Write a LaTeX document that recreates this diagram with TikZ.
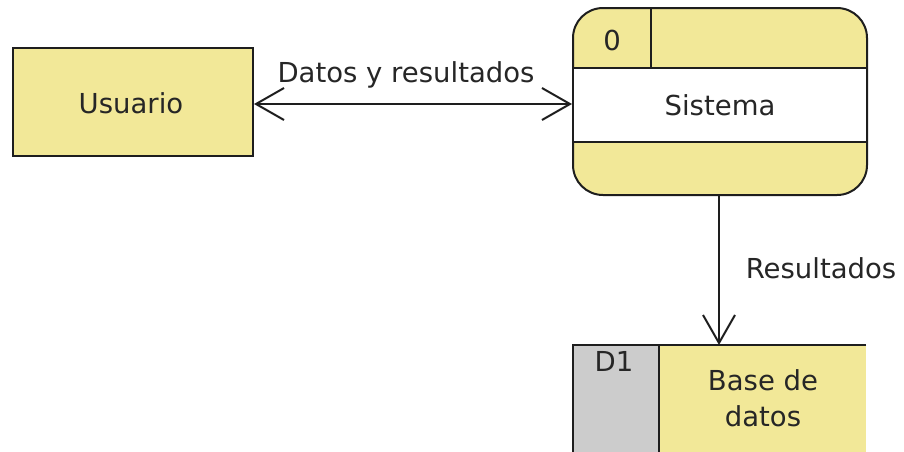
\documentclass[tikz,border=0pt]{standalone}
\usepackage{fontspec}
\setmainfont{DejaVu Sans}
\usetikzlibrary{arrows.meta,calc}
\definecolor{dfdyellow}{RGB}{242,232,152}
\definecolor{dfdgray}{RGB}{204,204,204}
\definecolor{dfdline}{RGB}{30,30,30}
\tikzset{
  x=1pt, y=-1pt,
  lbl/.style={font=\fontsize{27.5}{32}\selectfont, text=black!85, inner sep=0pt},
  edge/.style={draw=dfdline, line width=2pt},
  entity/.style={edge, fill=dfdyellow, minimum width=240pt, minimum height=108pt, inner sep=0pt},
  barb/.tip={Straight Barb[length=28pt,width=32pt,line width=2pt]},
  flow/.style={edge, arrows={-barb}},
  dual/.style={edge, arrows={barb-barb}},
}
\begin{document}
\begin{tikzpicture}
\useasboundingbox (0,0) rectangle (904,451);

% external entity
\node[entity] (usuario) at (133,102) {};
\node[lbl] (usuariotxt) at (131,103) {Usuario};

% process box: rounded yellow body, white name band, id cell
\node[edge, fill=dfdyellow, rounded corners=30pt,
      minimum width=294pt, minimum height=187pt, inner sep=0pt] (sistema) at (720,101.5) {};
\fill[white] (574,68) rectangle (866,142);
\draw[edge] (573,68) -- (867,68);
\draw[edge] (573,142) -- (867,142);
\draw[edge] (651,8) -- (651,68);
\node[lbl] (pid) at (612,40) {0};
\node[lbl] (sistematxt) at (720,105) {Sistema};

% data store, open on the right
\fill[dfdgray] (573,345) rectangle (659,452);
\fill[dfdyellow] (659,345) rectangle (866,452);
\draw[edge] (866,345) -- (573,345) -- (573,452);
\draw[edge] (659,345) -- (659,452);
\coordinate (store) at (719,345);
\node[lbl] (sid) at (614,361) {D1};
\node[lbl, align=center, font=\fontsize{27.5}{36}\selectfont] (storetxt) at (763,398) {Base de\\datos};

% data flows
\draw[dual] (usuario.east |- 0,104) -- (sistema.west |- 0,104);
\node[lbl] (f1) at (406,75) {Datos y resultados};
\draw[flow] (sistema.south -| store) -- (store);
\node[lbl] (f2) at (821,268) {Resultados};
\end{tikzpicture}
\end{document}
